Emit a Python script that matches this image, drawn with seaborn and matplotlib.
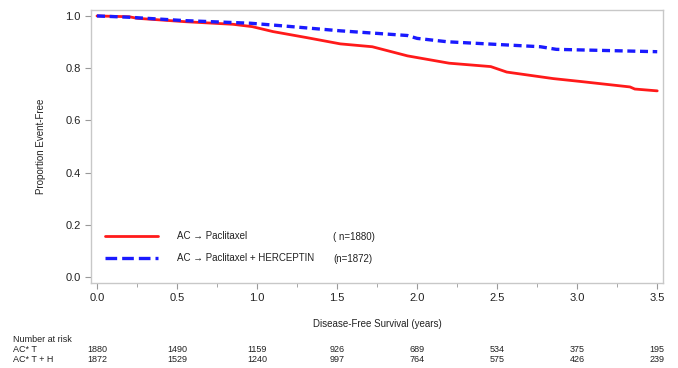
import matplotlib
matplotlib.use("Agg")
import matplotlib.pyplot as plt
import matplotlib.transforms as mtransforms
from matplotlib.ticker import MultipleLocator
import seaborn as sns
import pandas as pd

# Kaplan-Meier curves
years = [0.0, 0.2, 0.25, 0.55, 0.85, 0.97, 1.1, 1.31, 1.52, 1.72, 1.94, 2.2, 2.46,
         2.56, 2.85, 3.02, 3.33, 3.36, 3.5]
ac_t = [1.0, 0.997, 0.991, 0.978, 0.968, 0.959, 0.94, 0.917, 0.893, 0.882, 0.847,
        0.819, 0.806, 0.785, 0.76, 0.749, 0.728, 0.72, 0.713]
years_h = [0.0, 0.2, 0.55, 0.96, 1.16, 1.52, 1.94, 2.0, 2.19, 2.77, 2.87, 3.5]
ac_th = [1.0, 0.995, 0.982, 0.972, 0.962, 0.943, 0.925, 0.914, 0.901, 0.882,
         0.872, 0.863]

risk_times = [0.0, 0.5, 1.0, 1.5, 2.0, 2.5, 3.0, 3.5]
risk_ac_t = [1880, 1490, 1159, 926, 689, 534, 375, 195]
risk_ac_th = [1872, 1529, 1240, 997, 764, 575, 426, 239]

lab1 = "AC \u2192 Paclitaxel"
lab2 = "AC \u2192 Paclitaxel + HERCEPTIN"
n1 = "( n=1880)"
n2 = "(n=1872)"

sns.set_style("white")
plt.rcParams['font.family'] = ['Liberation Sans', 'DejaVu Sans']

fig = plt.figure(figsize=(6.78, 3.68), dpi=100)
ax = fig.add_axes([0.1342, 0.231, 0.844, 0.742])

d1 = pd.DataFrame({"t": years, "s": ac_t})
d2 = pd.DataFrame({"t": years_h, "s": ac_th})
sns.lineplot(data=d1, x="t", y="s", ax=ax, color="#ff1a1a", lw=2.0, label=lab1)
sns.lineplot(data=d2, x="t", y="s", ax=ax, color="#1a1aff", lw=2.4,
             dashes=False, label=lab2)
ax.lines[1].set_dashes([2.4, 1.4])

ax.set_xlim(-0.0375, 3.5375)
ax.set_ylim(-0.023, 1.023)
ax.xaxis.set_major_locator(MultipleLocator(0.5))
ax.xaxis.set_minor_locator(MultipleLocator(0.25))
ax.yaxis.set_major_locator(MultipleLocator(0.2))
ax.xaxis.set_major_formatter(matplotlib.ticker.FormatStrFormatter("%.1f"))
ax.yaxis.set_major_formatter(matplotlib.ticker.FormatStrFormatter("%.1f"))
ax.tick_params(which="both", direction="out", color="#999999", labelsize=8,
               labelcolor="#222222")
ax.tick_params(which="major", length=4, width=0.8)
ax.tick_params(which="minor", length=3, width=0.6)
ax.tick_params(axis="x", which="both", bottom=True)
ax.tick_params(axis="y", left=True)
for sp in ax.spines.values():
    sp.set_color("#c8c8c8")
    sp.set_linewidth(1.0)

ax.set_xlabel("Disease-Free Survival (years)", fontsize=7, color="#222222",
              labelpad=11)
ax.set_ylabel("Proportion Event-Free", fontsize=7, color="#222222", labelpad=14)

leg = ax.legend(loc="upper left", bbox_to_anchor=(0.0245, 0.19), frameon=False,
                fontsize=7, handlelength=5.4, handletextpad=2.0,
                labelspacing=1.25, borderpad=0, borderaxespad=0)
for t in leg.get_texts():
    t.set_color("#222222")
leg.get_lines()[1].set_dashes([3.5, 1.5])
ax.text(1.475, 0.153, n1, fontsize=7, color="#222222", va="center")
ax.text(1.475, 0.069, n2, fontsize=7, color="#222222", va="center")

# number at risk table
tr = mtransforms.blended_transform_factory(ax.transData, fig.transFigure)
row1 = 1 - 350 / 368
row2 = 1 - 359.5 / 368
fig.text(13 / 678, 1 - 340 / 368, "Number at risk", fontsize=6.5, va="center",
         color="#222222")
fig.text(13 / 678, row1, "AC* T", fontsize=6.5, va="center", color="#222222")
fig.text(13 / 678, row2, "AC* T + H", fontsize=6.5, va="center", color="#222222")
for x, a, b in zip(risk_times, risk_ac_t, risk_ac_th):
    ax.text(x, row1, str(a), transform=tr, fontsize=6.5, ha="center",
            va="center", color="#222222")
    ax.text(x, row2, str(b), transform=tr, fontsize=6.5, ha="center",
            va="center", color="#222222")

fig.savefig("out.png", dpi=100)
